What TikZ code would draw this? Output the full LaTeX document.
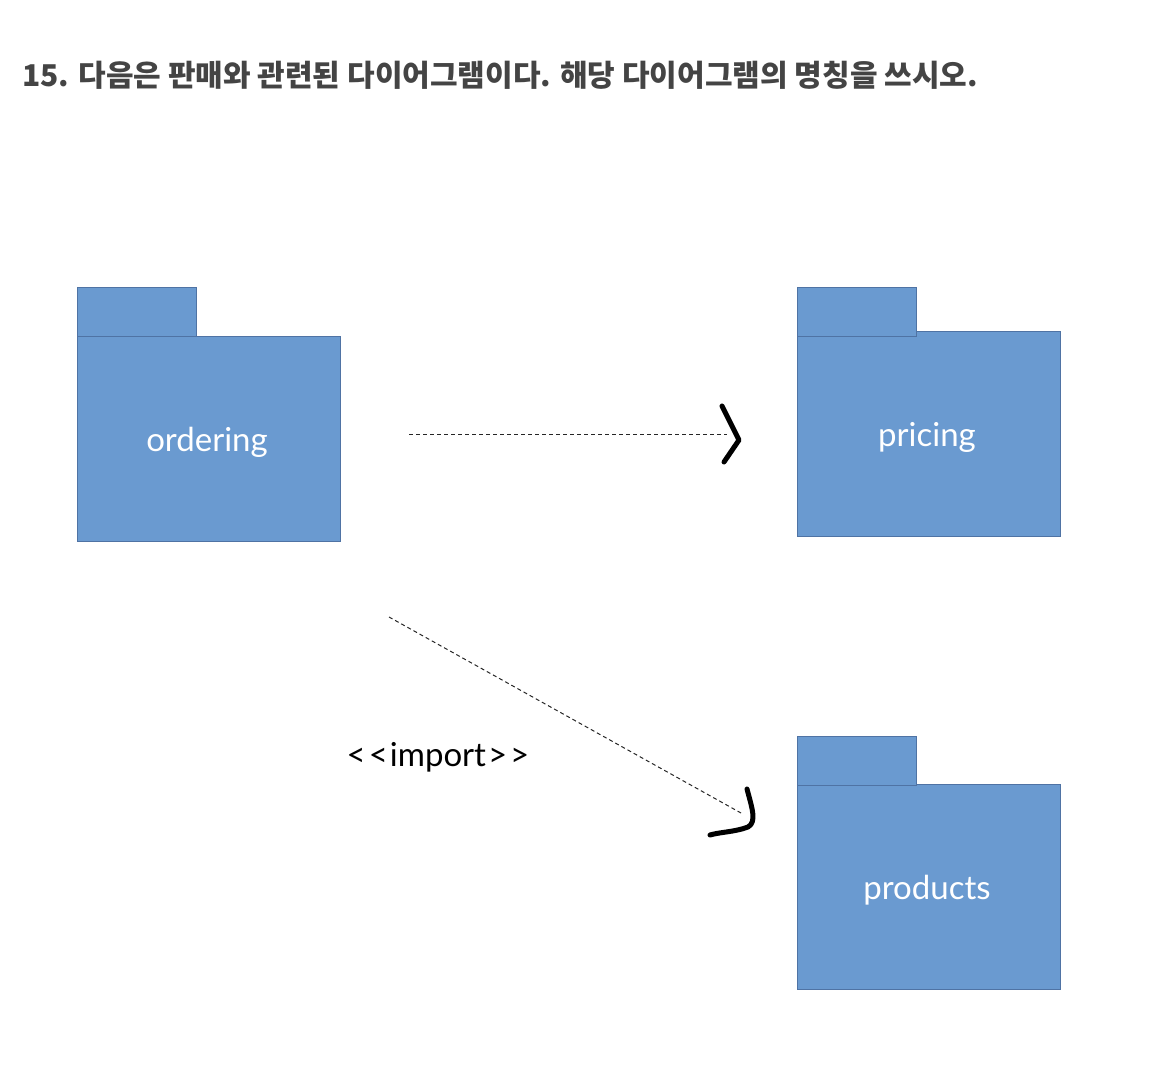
\documentclass[tikz,border=0pt]{standalone}
\usepackage{fontspec}
\setmainfont{Lato}
\newfontfamily\krfont{Noto Sans CJK KR}
\definecolor{pkgfill}{HTML}{6A9AD0}
\definecolor{pkgline}{HTML}{4F73A4}
\definecolor{titlegray}{HTML}{444444}
\tikzset{
  pkgbody/.style={draw=pkgline, fill=pkgfill, line width=1.2pt, rectangle, anchor=north west,
    minimum width=263pt, minimum height=205pt, inner sep=0pt},
  pkgtab/.style={draw=pkgline, fill=pkgfill, line width=1.2pt, rectangle, anchor=north west,
    minimum width=119pt, minimum height=49pt, inner sep=0pt},
  pkglabel/.style={text=white, font=\fontsize{33}{38}\selectfont, inner sep=0pt},
  dep/.style={dashed, dash pattern=on 4pt off 3pt, line width=1pt, black!85},
  hand/.style={line width=5pt, line cap=round, line join=round, black}
}
\begin{document}
\begin{tikzpicture}[x=1pt,y=-1pt]
\useasboundingbox (0,0) rectangle (1170,1076);
% title
\node[anchor=west, inner sep=0pt, text=titlegray, font=\krfont\bfseries\fontsize{30}{34}\selectfont] (title) at (22,75) {15. 다음은 판매와 관련된 다이어그램이다. 해당 다이어그램의 명칭을 쓰시오.};
% ordering
\node[pkgbody] (ordering) at (77,336) {};
\node[pkgtab] (orderingtab) at (77,287) {};
\node[pkglabel] (orderinglbl) at (207,442) {ordering};
% pricing
\node[pkgbody] (pricing) at (797,331) {};
\node[pkgtab] (pricingtab) at (797,287) {};
\node[pkglabel] (pricinglbl) at (927,437) {pricing};
% products
\node[pkgbody] (products) at (797,784) {};
\node[pkgtab] (productstab) at (797,736) {};
\node[pkglabel] (productslbl) at (927,890) {products};
% connector 1
\coordinate (d1s) at (409,434);
\coordinate (d1e) at (727,434);
\draw[dep] (d1s) -- (d1e);
\draw[hand] (722,406) -- (739,440) -- (724,462);
% connector 2
\coordinate (d2s) at (389,617);
\coordinate (d2e) at (741,813);
\draw[dep] (d2s) -- (d2e);
\draw[hand] (747,789) .. controls (752,808) and (757,822) .. (748,827) .. controls (735,832) and (720,832) .. (710,835);
% label
\node[font=\fontsize{33}{36}\selectfont, inner sep=0pt] (importlbl) at (438,757) {<\hspace{3pt}<\hspace{2pt}import\hspace{2pt}>\hspace{3pt}>};
\end{tikzpicture}
\end{document}
